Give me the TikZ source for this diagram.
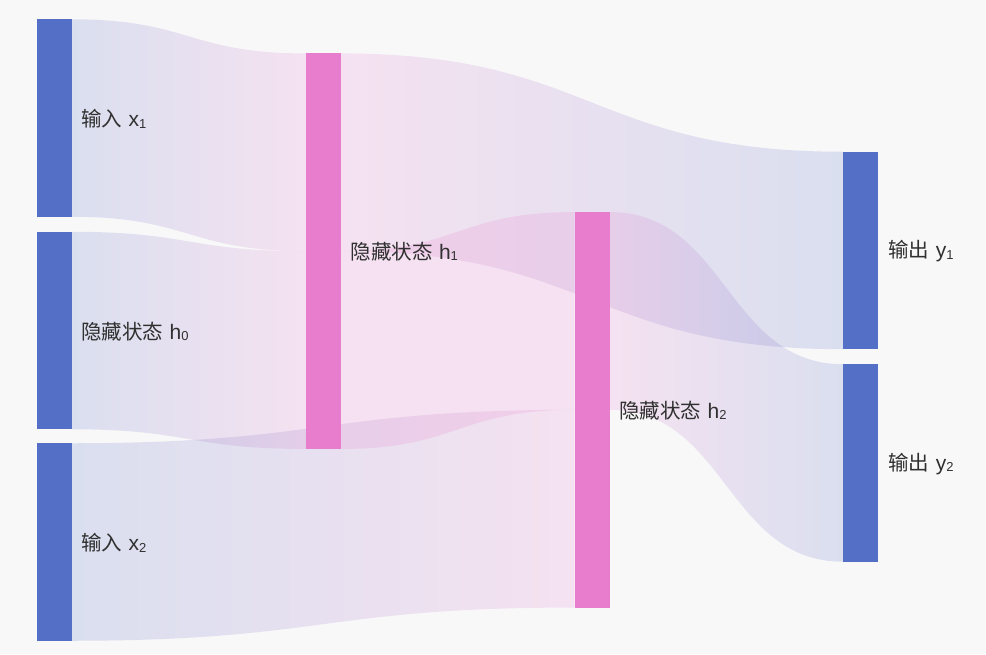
\documentclass[tikz,border=0pt]{standalone}
\usepackage{fontspec}
\setmainfont{Noto Sans CJK SC}
\newfontfamily\lat{Liberation Sans}
\usetikzlibrary{calc}
\definecolor{bg}{RGB}{248,248,249}
\definecolor{nblue}{RGB}{84,112,198}
\definecolor{npink}{RGB}{233,125,205}
\definecolor{txt}{RGB}{48,48,48}
\pgfdeclarelayer{links}
\pgfsetlayers{links,main}
\newcommand\vr[2]{\hspace{6.5pt}{\lat\fontsize{21}{24}\selectfont #1\raisebox{-1.3pt}{\fontsize{13}{13}\selectfont #2}}}
\newcommand\linkband[6]{%
  \shade[left color=#5, right color=#6, fill opacity=0.18] let \p1=(#1), \p2=(#2), \p3=(#3), \p4=(#4) in
  (\p1) .. controls ({(\x1+\x2)/2},\y1) and ({(\x1+\x2)/2},\y2) .. (\p2) -- (\p3)
  .. controls ({(\x3+\x4)/2},\y3) and ({(\x3+\x4)/2},\y4) .. (\p4) -- cycle;}
\begin{document}
\begin{tikzpicture}[x=1pt,y=-1pt,
  bar/.style={rectangle, inner sep=0pt, outer sep=0pt, minimum width=35pt},
  leaf/.style={bar, minimum height=197.5pt, fill=nblue},
  hid/.style={bar, minimum height=395.5pt, fill=npink},
  lab/.style={anchor=west, inner sep=0pt, text=txt, font=\fontsize{20.5}{24}\selectfont}]
\useasboundingbox (0,0) rectangle (986,654);
% bars
\node[leaf] (x1) at (54.2,118) {};
\node[leaf] (h0) at (54.2,330.5) {};
\node[leaf] (x2) at (54.2,542) {};
\node[hid] (h1) at (323.5,251.2) {};
\node[hid] (h2) at (592.2,409.8) {};
\node[leaf] (y1) at (860.8,250.5) {};
\node[leaf] (y2) at (860.8,463) {};
% links
\begin{pgfonlayer}{links}
\fill[bg] (0,0) rectangle (986,654);
\linkband{x1.north east}{h1.north west}{h1.west}{x1.south east}{nblue}{npink}
\linkband{h0.north east}{h1.west}{h1.south west}{h0.south east}{nblue}{npink}
\linkband{x2.north east}{h2.west}{h2.south west}{x2.south east}{nblue}{npink}
\linkband{h1.north east}{y1.north west}{y1.south west}{h1.east}{npink}{nblue}
\linkband{h1.east}{h2.north west}{h2.west}{h1.south east}{npink}{npink}
\linkband{h2.north east}{y2.north west}{y2.south west}{h2.east}{npink}{nblue}
\end{pgfonlayer}
% labels
\node[lab] (lx1) at ([xshift=9.3pt,yshift=-1pt]x1.east) {输入\vr{x}{1}};
\node[lab] (lh0) at ([xshift=9.3pt,yshift=-1pt]h0.east) {隐藏状态\vr{h}{0}};
\node[lab] (lx2) at ([xshift=9.3pt,yshift=-1pt]x2.east) {输入\vr{x}{2}};
\node[lab] (lh1) at ([xshift=9.3pt,yshift=-0.5pt]h1.east) {隐藏状态\vr{h}{1}};
\node[lab] (lh2) at ([xshift=9.3pt,yshift=-0.5pt]h2.east) {隐藏状态\vr{h}{2}};
\node[lab] (ly1) at ([xshift=9.8pt,yshift=-1pt]y1.east) {输出\vr{y}{1}};
\node[lab] (ly2) at ([xshift=9.8pt,yshift=-1pt]y2.east) {输出\vr{y}{2}};
\end{tikzpicture}
\end{document}
